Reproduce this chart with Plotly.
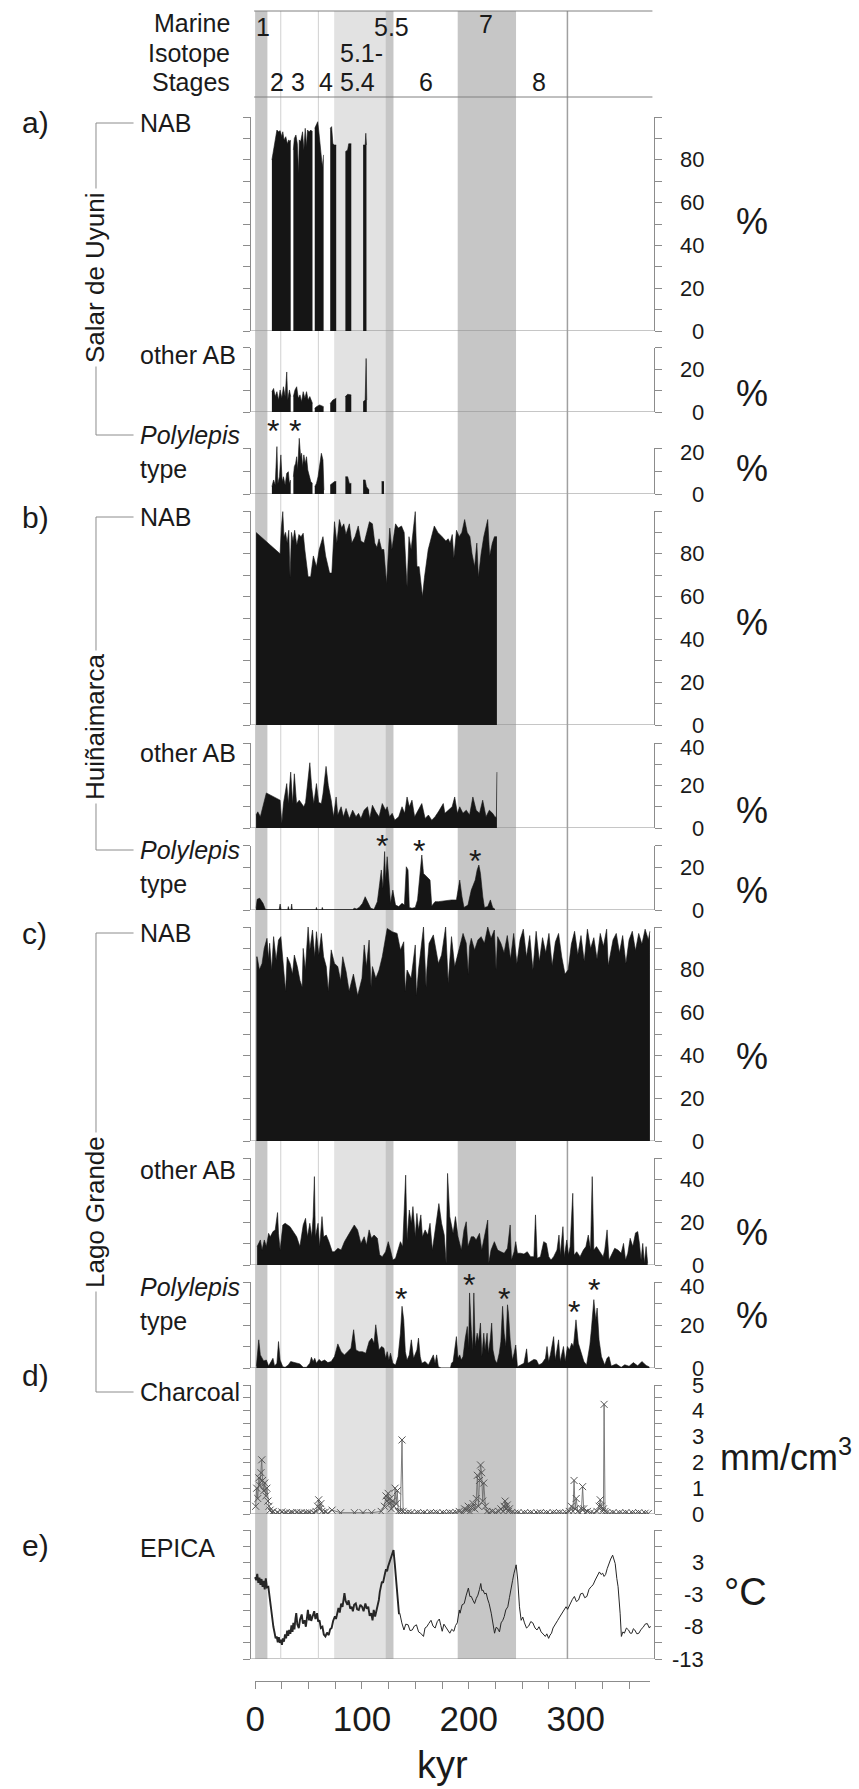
import plotly.graph_objects as go

W, H = 859, 1789
def X(px): return px / W
def Y(py): return 1 - py / H

# ---------------- DATA (age in kyr, value) ----------------
salar_nab = [(15.7, 79.9), (17.3, 84.6), (18.8, 90.8), (20.4, 93.9), (21.9, 93.1), (23.4, 93.6), (25, 90.8), (25.9, 93.1),
             (27.1, 89.3), (28.7, 90.8), (30.2, 87.5), (31.5, 89.3), (32.7, 88.5), (33.3, 89.3), None,
             (35.8, 84.6), (36.7, 90), (38.2, 91.6), (39.5, 87.5), (40.7, 73.6), (41.3, 89.3), (42.6, 88.5), (44.4, 93.1),
             (45.6, 84.6), (46.9, 94.7), (48.1, 86.1), (49, 93.9), (50.6, 93.1), (52.1, 93.9), (53.7, 93.1), None,
             (55.8, 94.7), (57.4, 96.3), (58.6, 97.8), (59.8, 92.4), (61.4, 83), (62.9, 76.8), (64.1, 82.3), None,
             (70.3, 94.7), (71.6, 95.5), (72.8, 87.5), (74.3, 86.9), (75.9, 86.9), None,
             (84.5, 83.8), (86.6, 84.6), (87.6, 87.5), (90, 87.5), None,
             (101.1, 86.9), (103, 86.9), (103.6, 92.4), (104.2, 86.9)]
salar_other = [(15.7, 9.5), (17.3, 11), (18.8, 7.2), (20.4, 9.5), (21.9, 5.6), (23.4, 10.3), (25, 6.4), (26.5, 11.8),
               (28.1, 7.2), (29.6, 18.7), (30.5, 5.6), (32.1, 10.3), (33.3, 7.2), None,
               (35.8, 7.2), (37.3, 10.3), (38.9, 11.8), (40.4, 6.4), (42, 8), (43.5, 4.8), (45, 9.5), (46.6, 6.4),
               (48.1, 9.5), (49.6, 5.6), (51.2, 7.2), (52.7, 4.8), (53.7, 4), None,
               (55.8, 1.7), (57.4, 2.5), (60.4, 3.3), (62, 2.9), (64.1, 2.5), None,
               (70.3, 4), (72.8, 5.6), (75.9, 6.4), None,
               (84.5, 7.2), (86.6, 8.3), (90, 8), None,
               (101.1, 4.8), (103, 5.6), (103.9, 25), (104.5, 5.6)]
salar_poly = [(15.7, 3.2), (17.3, 6.1), (18.8, 3.9), (20.4, 20.6), (21.3, 4.6), (22.8, 7.5), (24.1, 17), (25.3, 5.4),
              (26.5, 7.5), (28.1, 3.9), (29.6, 9), (31.1, 9.7), (32.1, 4.6), (33.3, 6.1), None,
              (35.8, 7.5), (36.7, 11.9), (37.9, 13.3), (38.9, 16.2), (39.8, 10.4), (41.3, 24.2), (42.6, 16.2), (43.5, 17.7),
              (44.4, 11.9), (45.6, 17), (46.9, 13.3), (48.1, 16.2), (49.3, 10.4), (50.6, 7.5), (52.1, 5.4), (53.7, 4.6), None,
              (55.8, 3.2), (57.4, 4.6), (58.9, 7.5), (60.4, 13.3), (62, 17.7), (63.5, 14.8), (64.4, 1.7), None,
              (70.3, 3.9), (72.2, 4.6), (74.3, 5.4), (75.9, 5.4), None,
              (84.5, 7.5), (86.6, 7.5), (88.2, 4.6), (90, 4.6), None,
              (101.1, 6.1), (103, 6.1), (104.2, 3.2), (106.7, 1.7), None,
              (118.4, 5.4), (120.6, 5.4)]

huin_nab = [(0.9, 90), (23.4, 80), (24.5, 92), (25.9, 99.7), (27, 88), (28.5, 90), (30, 85), (31.5, 91), (32.7, 69),
            (34, 90), (35.5, 86), (37, 91), (39, 84), (41, 89), (43, 88), (45, 89.6), (46.5, 82), (48, 75), (49.6, 69.3),
            (52, 69.3), (54.5, 79), (57.4, 74), (60, 82), (63.5, 88), (66, 79), (69.7, 71), (71.8, 71), (74.3, 95),
            (76.5, 85), (78.9, 96), (81, 92), (83, 94), (85, 89), (88.2, 94), (90.5, 85), (93.5, 88), (96.5, 93),
            (99, 86), (102, 85), (104.5, 90), (107, 95), (109.8, 94), (112, 85), (114, 83), (116, 87), (118.4, 82),
            (120.5, 82), (123, 66), (124.5, 82), (126, 92), (128, 82), (131.4, 94), (134, 92), (137, 93), (139.5, 90),
            (142.2, 64.6), (144, 88), (146, 82), (149.9, 99.7), (151.5, 74), (153.5, 74), (156.6, 60), (158.5, 69),
            (162, 82), (167.7, 93), (171, 90), (175, 88), (178.5, 86), (180.7, 87), (182.5, 85), (184.5, 89), (186, 78),
            (188.5, 91), (191, 88), (193.5, 90), (196.1, 96), (198.5, 90), (201, 88), (203, 80), (205.4, 74),
            (207.5, 85), (209, 69), (211.5, 80), (214, 88), (217.7, 96), (219.5, 79), (222, 85), (224, 88), (226.3, 88)]
huin_other = [(0.9, 6.1), (2.5, 7.6), (4.9, 5.3), (10.5, 16.5), (23.4, 13.1), (25, 2.2), (26.5, 11.5), (29.6, 20.9),
              (31.1, 11.5), (33.3, 26.3), (35.1, 11.5), (36.7, 25.5), (38.8, 11.5), (41.3, 13.1), (43.5, 11.5),
              (45.6, 10), (47.2, 12), (49, 20), (51.2, 30.7), (53, 19), (54.9, 11.5), (57.4, 20.9), (59.5, 12),
              (62, 11.5), (63.5, 16), (66.4, 29), (68.5, 20), (71.2, 13.1), (73.4, 5.3), (75.8, 14.6), (77.4, 6.1),
              (80.5, 10), (82.6, 5.3), (85.1, 9.2), (88.2, 4.5), (91.3, 8.4), (94.4, 5.3), (96.8, 6.9), (99, 4.5),
              (102, 8.4), (105.2, 10), (107.3, 4.5), (109.8, 10.7), (112.9, 7.6), (116, 5.3), (119, 11.5), (122.1, 8.4),
              (123.6, 10), (125.8, 5.3), (128.3, 6.9), (130.7, 3.7), (134.4, 5.3), (137.5, 10), (140, 6.9),
              (142.2, 14.6), (144.3, 10), (146.8, 13.1), (149.3, 5.3), (153, 8.4), (156, 11.5), (159.1, 4.5),
              (162.2, 6.1), (165.3, 3.7), (168.4, 5.3), (171.5, 7.6), (176.1, 11.5), (177.6, 6.9), (181.3, 8.4),
              (184.4, 10), (186.8, 14.6), (189.3, 6.9), (191.5, 10), (194.5, 6.9), (197.6, 8.4), (200.7, 6.1),
              (203.8, 14.6), (206.9, 8.4), (210, 6.9), (213, 13.1), (216.1, 5.3), (219.2, 8.4), (222.3, 6.9),
              (224.4, 5.3), (225.8, 5), (226.3, 26.3)]
huin_poly = [(0.9, 0.8), (1.9, 5), (4.3, 5.5), (7.4, 3.1), (9.6, 0.3), (12, 0.2), (22.5, 0.2), (23.4, 2.8), (24.3, 0.2),
             (30.5, 0.2), (31.1, 1.6), (31.8, 0.2), (33.6, 0.2), (34.2, 2.8), (34.8, 0.2), (56.8, 0.2), (57.4, 1.2),
             (58, 0.2), (62.3, 0.2), (62.9, 1.2), (63.5, 0.2), (91.3, 0.2), (92.8, 0.8), (95, 0.5), (97.4, 1.2),
             (100.5, 3.1), (103, 6.2), (105.2, 3.9), (108.2, 0.8), (111.3, 0.3), (114.4, 3.9), (116.6, 12.5),
             (118.1, 18.7), (119.6, 10.1), (121.2, 27.3), (122.1, 14), (123.6, 24.9), (125.2, 14), (126.7, 3.1),
             (128.9, 9.3), (131.4, 2.3), (134.4, 1.6), (137.5, 3.1), (139.7, 2.3), (141.5, 20.2), (143.1, 18.7),
             (144.3, 1.2), (146.8, 0.8), (149.9, 1.2), (152, 4.7), (154.5, 20.2), (156, 25.7), (157.6, 17.1),
             (160.7, 15.6), (163.7, 14), (165.3, 1.9), (168.4, 3.9), (171.5, 3.9), (177.6, 4.4), (183.8, 4.7),
             (188.4, 4.7), (191.5, 14), (193.6, 6.2), (195.5, 1.2), (199.2, 2.3), (202.3, 9.3), (206, 14),
             (207.8, 18.7), (209.4, 21), (210.9, 17.1), (213.1, 6.2), (214.6, 1.2), (217.7, 1.6), (220.2, 4.7),
             (222.3, 1.2), (224.5, 0.3)]

lago_nab = [(1.2, 86), (1.9, 86.1), (4, 80), (6.5, 83), (8.5, 90), (11.1, 94.7), (12.5, 85), (13.6, 92.4), (15.5, 80),
            (17.3, 95.5), (19.7, 84.6), (21.9, 93.9), (24.1, 95.5), (26.5, 81.5), (28.5, 70), (30, 86), (32.7, 83),
            (35, 78), (36.7, 86.9), (39.5, 81.5), (42, 75), (44, 72), (45, 90), (47, 80), (49.6, 100), (51.2, 89.3),
            (53.7, 98.6), (55.8, 86.1), (57.4, 97.8), (59.6, 86.9), (62, 97), (64.1, 86.1), (66.6, 81.5), (68.5, 70),
            (71.2, 89.3), (74.3, 83), (77.4, 81.5), (80, 75), (82, 86.1), (85.2, 79), (88, 70), (92, 78), (96, 68),
            (100, 76), (102.1, 91.6), (104.2, 81.5), (106.7, 93.9), (108.5, 72), (109.8, 81.5), (113, 76), (116, 79.9),
            (119, 86.1), (123.6, 99.3), (128.3, 97.8), (132.9, 97), (136, 89.3), (139.1, 93.1), (140.5, 70), (142.2, 79.9),
            (146, 76), (149.9, 91.6), (151, 68), (152.9, 79.9), (157.6, 100), (160, 72), (160.7, 79.9), (162.8, 92.4),
            (166.8, 96.3), (171.5, 83), (174.5, 86.9), (178.3, 100), (180.7, 74), (183.8, 95.5), (186.8, 81.5),
            (191.5, 91.6), (194.6, 97), (197.6, 92.4), (199.5, 78), (200.7, 90.8), (202.3, 94.7), (205.4, 89.3),
            (208.5, 93.9), (211.5, 95.5), (214.6, 92.4), (217.7, 100), (220.8, 94.7), (223.9, 98.6), (225.5, 80),
            (227, 95.5), (230, 92.4), (233, 88), (236, 96), (239, 85), (242, 97), (245, 83), (248, 94), (251, 99),
            (254, 86), (257, 96), (260, 80), (263, 98), (266, 84), (269, 95), (272, 88), (275, 97), (278, 82), (281, 93),
            (284, 97), (287, 86), (290, 78), (293, 80), (296, 92), (299, 98), (302, 87), (305, 96), (308, 84), (311, 99),
            (314, 90), (317, 95), (320, 85), (323, 97), (326, 91), (329, 99), (330.5, 82), (332, 86), (335, 94),
            (338, 97), (341, 88), (344, 96), (347, 83), (350, 94), (353, 98), (356, 89), (359, 97), (362, 92),
            (365, 99), (368, 94), (369.5, 98)]
lago_other = [(1.9, 8.6), (4.9, 11.7), (6.5, 7), (8.6, 11.7), (10.5, 8.6), (12.6, 14.8), (14.2, 13.2), (16.7, 15.6),
              (18.8, 16.4), (21, 24.5), (21.9, 14.8), (23.4, 7), (25.9, 18.7), (28.1, 19.5), (32.7, 17.9), (35.8, 15.6),
              (38.9, 13.2), (41.9, 8.6), (45, 18.7), (47.2, 21.8), (49, 13.2), (51.2, 19.5), (53, 13.2), (54.3, 22.6),
              (55.5, 41.3), (56.4, 13.2), (58.9, 19.5), (60.4, 8.6), (62.6, 22.6), (64.1, 13.2), (66.6, 14), (69.1, 10.9),
              (72.2, 6.2), (74.3, 6.2), (77.4, 7.8), (80.5, 7), (83.6, 10.9), (88.2, 14.8), (92.8, 18.7), (95.9, 16.4),
              (99, 10.1), (102.1, 13.2), (104.2, 9.3), (106.7, 16.4), (108.9, 12.5), (111.3, 14), (114.4, 12.5),
              (116.6, 4.7), (119, 3.9), (122.1, 6.2), (124.6, 10.9), (126.7, 7), (128.9, 2.3), (131.4, 3.1),
              (133.8, 7.8), (136, 10.9), (138.1, 8.6), (140.9, 42), (142.2, 11.7), (144.3, 25.7), (146.2, 19.5),
              (147.7, 27.3), (149.9, 13.2), (151.4, 24.1), (152.9, 16.4), (155.1, 23.4), (156.6, 13.2), (159.1, 16.4),
              (161.6, 14), (163.7, 19.5), (165.9, 7), (168.4, 16.4), (172, 28.7), (174.5, 19.5), (177, 14), (178.8, 0.8),
              (180.1, 42.8), (182.2, 22.6), (185.3, 14.8), (187.5, 22.6), (189.9, 13.2), (193, 7), (195.5, 16.4),
              (197.6, 20.2), (199.2, 8.6), (202.3, 13.2), (204.7, 13.2), (206.9, 11.7), (210, 14.8), (212.1, 7),
              (215.2, 14.8), (217.7, 21), (218.6, 0.8), (220.8, 7), (223.9, 10.9), (227, 7), (230, 6.2), (233.1, 5.5),
              (236.2, 7.8), (238.7, 18.7), (239.9, 2.3), (242.4, 6.2), (243.9, 10.9), (245.5, 5.5), (248.5, 5.5),
              (251.6, 5.1), (254.7, 6.2), (257.8, 3.9), (260.9, 3.9), (262.4, 23.4), (264, 3.1), (267, 3.9),
              (270.1, 10.9), (272.6, 10.1), (274.8, 3.9), (276.9, 2.3), (279.4, 3.9), (282.5, 7), (284.4, 14),
              (285.6, 4.7), (288.1, 17.9), (289.3, 3.9), (291.7, 11.7), (293.3, 4.7), (294.8, 8.6), (297.3, 33.5),
              (298.5, 4.7), (301, 6.2), (304.1, 3.9), (307.2, 7), (309.6, 8.6), (311.8, 14), (313.9, 7), (315.5, 41.3),
              (317, 7), (319.5, 8.6), (322.6, 6.2), (325.7, 3.9), (327.2, 7), (329.4, 16.4), (331.2, 2.3), (333.4, 4.7),
              (336.5, 7.8), (339.6, 7), (342.6, 5.5), (344.8, 10.1), (346.7, 2.3), (348.8, 5.5), (351, 12.5),
              (353.5, 8.6), (356, 15), (358.1, 15.6), (359.7, 10.1), (361.2, 2.3), (362.8, 10.1), (364.3, 0.8),
              (365.9, 8.6), (367.4, 0.8)]
lago_poly = [(1.2, 0.9), (3.4, 13.1), (4.9, 6.1), (8, 3.3), (10.5, 3.7), (12.6, 0.9), (16.7, 4.5), (18.2, 0.9), (20.4, 2.2),
             (21.9, 12.3), (23.4, 3.7), (25.9, 0.6), (28.1, 0.3), (31.1, 1.4), (33.3, 3), (37.3, 2.5), (41.9, 1.9),
             (45, 0.3), (48.1, 0.3), (51.2, 2.2), (52.7, 5), (54.3, 3), (55.8, 4.5), (57.4, 2.2), (59.8, 4), (62, 3),
             (65.1, 3.7), (68.1, 2.5), (71.2, 3), (74.3, 5.3), (77.4, 11.2), (80.5, 7.6), (83.6, 6.1), (86.6, 7.6),
             (89.7, 9.2), (92.2, 17.8), (94.4, 8.4), (97.4, 7.6), (100.5, 7.6), (103.6, 6.9), (106.7, 12.3),
             (109.2, 13.9), (111.3, 11.5), (112.9, 20.1), (114.4, 13.9), (115.9, 8.4), (118.4, 10), (120.6, 9.2),
             (122.1, 4.5), (123.6, 7.6), (125.2, 3.7), (126.7, 6.9), (128.9, 2.2), (131.4, 1.4), (133.8, 5.3),
             (136, 16.2), (137.5, 28.7), (139.1, 22.4), (140.6, 7.6), (142.2, 3.7), (144.3, 6.1), (146.2, 13.1),
             (148.3, 4.5), (151.4, 8.4), (152.9, 13.9), (154.5, 5.3), (156, 2.2), (159.1, 3), (162.2, 1.4), (165.3, 4.5),
             (166.8, 6.1), (168.4, 2.2), (169.9, 6.1), (171.5, 0.6), (173, 0.3), (174, 0), (182.8, 0), (183.8, 2.2),
             (185.3, 3), (188.4, 14.6), (189.9, 4.5), (191.5, 6.1), (193, 3.7), (194.6, 5.3), (196.7, 13.9),
             (198.6, 19.3), (199.8, 9.2), (200.7, 34.9), (202.3, 17.8), (203.8, 8.4), (204.7, 34.9), (206, 10),
             (207.8, 16.2), (209.1, 12.3), (210.9, 20.9), (212.2, 5.3), (214, 16.2), (215.2, 8.4), (217.1, 16.2),
             (218.3, 6.9), (220.2, 13.9), (221.4, 20.9), (222.6, 8.4), (224.5, 3.7), (226.3, 2.2), (228.5, 6.9),
             (230, 12.3), (231.6, 28.7), (233.1, 16.2), (234.7, 10), (236.2, 29.4), (237.1, 25.5), (238.7, 13.1),
             (240.8, 3.7), (242.4, 6.9), (243.9, 10.7), (245.5, 0.6), (248.5, 1.4), (251.6, 2.2), (254.1, 8.9),
             (255.3, 2.2), (257.8, 3), (260.9, 4), (263.3, 3.7), (265.5, 1.4), (268.6, 2.2), (271.7, 4.5), (273.2, 10),
             (274.7, 3), (276.3, 6.1), (279.4, 14.6), (280.9, 3.7), (282.5, 8.4), (284, 13.1), (285.5, 3), (288.6, 10),
             (290.2, 3), (292.3, 10), (294.2, 8.4), (296.3, 11.5), (297.9, 10), (300.3, 22.4), (302.5, 11.5),
             (305.6, 6.1), (307.7, 3), (310.2, 1.4), (313.3, 10.7), (314.8, 18.5), (317, 31.8), (318.8, 22.4),
             (320.1, 27.9), (321.9, 13.1), (324.1, 5.3), (327.2, 1.4), (329.3, 4.5), (331.2, 5.3), (333.3, 0.9),
             (337.9, 1.9), (342.6, 0.3), (346, 1.5), (350, 0.8), (354, 2.5), (358, 1), (362, 3), (366, 1.2), (369, 0.5)]

charcoal = [(0.5, 0.3), (1.5, 1.0), (2.5, 0.6), (3.5, 1.4), (4.5, 1.1), (5.5, 1.6), (6.2, 2.1), (7, 1.3), (8, 0.9),
            (9, 1.2), (10, 0.7), (11, 1.0), (12, 0.5), (13, 0.3), (14, 0.15), (15.5, 0.05), (17, 0.1), (19, 0.0),
            (21, 0.05), (23, 0.0), (25, 0.08), (27, 0.02), (29, 0.05), (31, 0.0), (33, 0.04), (35, 0.05), (37, 0.0),
            (39, 0.06), (41, 0.02), (43, 0.05), (45, 0.0), (47, 0.04), (49, 0.03), (51, 0.05), (53, 0.0), (55, 0.04),
            (57, 0.1), (58.5, 0.3), (59.5, 0.55), (60.5, 0.2), (61.5, 0.4), (62.5, 0.1), (64, 0.05), (66, 0.08),
            (68, 0.02), (72, 0.15), (80, 0.05), (93, 0.05), (101, 0.05), (109, 0.05), (118, 0.1), (121, 0.3),
            (122.5, 0.7), (123.5, 0.5), (124.5, 0.8), (125.5, 0.4), (126.5, 0.6), (127.5, 0.2), (128.5, 0.5),
            (130, 0.3), (131, 1.0), (132, 0.4), (133, 0.9), (134, 0.1), (135, 0.05), (136, 0.1), (137.5, 2.87),
            (138.5, 0.1), (140, 0.02), (143, 0.05), (146, 0.03), (149, 0.0), (152, 0.05), (155, 0.02), (158, 0.04),
            (161, 0.0), (164, 0.05), (167, 0.03), (170, 0.05), (173, 0.0), (176, 0.04), (179, 0.02), (182, 0.05),
            (185, 0.03), (188, 0.06), (191, 0.1), (194, 0.05), (196, 0.2), (198, 0.15), (199.5, 0.3), (201, 0.1),
            (202.5, 0.25), (204, 0.4), (205.5, 0.2), (207, 0.6), (208, 1.5), (209, 0.3), (210, 1.3), (211, 1.9),
            (212, 1.6), (213, 0.5), (214, 1.2), (215.5, 0.3), (217, 0.1), (219, 0.05), (222, 0.1), (225, 0.05),
            (228, 0.1), (230, 0.2), (232, 0.1), (233, 0.3), (234, 0.5), (235, 0.2), (236, 0.35), (237, 0.1),
            (238, 0.2), (240, 0.05), (243, 0.03), (246, 0.05), (249, 0.0), (252, 0.04), (255, 0.02), (258, 0.05),
            (261, 0.0), (264, 0.03), (267, 0.05), (270, 0.02), (273, 0.04), (276, 0.0), (279, 0.05), (282, 0.03),
            (285, 0.05), (288, 0.02), (291, 0.04), (294, 0.1), (296, 0.3), (297.5, 0.1), (298.5, 1.3), (299.5, 0.2),
            (300.5, 0.6), (302, 0.1), (304, 0.05), (305.5, 0.2), (306.5, 1.06), (307.5, 0.2), (309, 0.05), (311, 0.1),
            (314, 0.05), (317, 0.03), (320, 0.1), (322, 0.3), (323, 0.55), (324, 0.3), (325, 0.1), (326, 0.2),
            (326.6, 4.25), (327.5, 0.1), (329, 0.05), (332, 0.02), (335, 0.05), (338, 0.0), (341, 0.04), (344, 0.02),
            (347, 0.05), (350, 0.0), (353, 0.04), (356, 0.02), (359, 0.05), (362, 0.0), (365, 0.03), (368, 0.02)]

epica = [(0, -0.3), (1, -0.8), (2, 0.2), (3, -1.2), (4, -0.4), (5, -1.5), (6, -0.6), (7, -1.8), (8, -0.9), (9, -2.2),
         (10, -0.5), (11, -1.9), (12.4, -1.8), (13.5, -3.5), (14.4, -4.9), (15.5, -6.5), (17.1, -8), (18.3, -9),
         (19.2, -9.8), (20.2, -9.5), (21.2, -10.4), (22.2, -9.6), (23.2, -10.5), (24.1, -10), (25.1, -10.8), (26, -9.8),
         (27, -10.3), (28, -9.2), (29, -9.8), (30, -8.6), (31, -9.4), (31.9, -8.5), (33, -9.1), (34, -7.8), (35, -8.8),
         (35.8, -7.4), (36.8, -8.4), (37.7, -6.8), (38.5, -5.9), (39.5, -7.6), (40.9, -8.2), (42, -6.9), (43.6, -6.1),
         (44.8, -7.5), (46.3, -7), (47.5, -8), (48.5, -6.2), (49.4, -5.4), (50.5, -7), (51.5, -6.1), (52.5, -7.1),
         (54, -6.4), (55.3, -5.6), (56.5, -6.8), (58, -5.9), (59, -7.2), (60.3, -7), (61.5, -8.2), (63, -8),
         (64.3, -9.2), (65.8, -9.5), (67.3, -8.9), (68.9, -9.3), (70.2, -8.4), (71.6, -8.2), (73, -7.1), (74.7, -6.4),
         (75.7, -6.8), (76.7, -5.9), (78, -5.1), (79.2, -5.8), (80.5, -4.4), (81.8, -4.9), (82.7, -3.5), (83.6, -2.8),
         (84.7, -4), (86.4, -4.6), (87.5, -3.9), (89, -5.2), (90.3, -4.9), (91.5, -5.6), (92.7, -4.6), (94.2, -4.4),
         (95.5, -5.3), (97, -5.4), (98.5, -4.6), (100.1, -4.9), (101.5, -5.6), (103.2, -4.4), (104.5, -5.2),
         (105.9, -4.9), (107.2, -6.3), (108.7, -5.9), (109.9, -7), (111, -5.4), (112.3, -6.4), (113.8, -5.4),
         (114.8, -4.6), (115.8, -3.85), (116.7, -2.6), (117.7, -1.8), (118.7, -1), (119.7, -1.2), (120.6, -0.2),
         (121.6, 0.3), (122.5, 0.9), (123.5, 0.6), (124.4, 1.3), (125.5, 1.9), (126.5, 2.2), (127.5, 3.1),
         (128.5, 3.4), (129.5, 3.9), (130.7, 1.8), (132.2, -1.8), (133.5, -4), (134.6, -5.9), (135.4, -5.9),
         (136.3, -6.8), (137.3, -7.4), (139.3, -8.5), (141, -7.6), (143.2, -7.7), (145, -8.6), (147.1, -8.5),
         (149, -7.9), (151, -7.7), (153, -8.8), (154.9, -9), (157.6, -9.5), (159, -8.2), (160.7, -8), (162.5, -7.5),
         (164.6, -7), (166.5, -7.9), (168.5, -8.2), (170.5, -7.2), (172.4, -6.8), (173.8, -7.8), (175.1, -8.7),
         (176.7, -7.6), (178.3, -8), (180.2, -8.6), (182.2, -9), (184, -8.4), (186, -8.7), (187.6, -7.8), (189.2, -7.4),
         (191.1, -5.4), (191.8, -5.9), (193.7, -4.6), (195.7, -4.4), (197.6, -3.1), (199.6, -2), (201, -3.3),
         (202.3, -3.3), (203.9, -3.9), (205.4, -4.4), (207, -3.6), (208.5, -3.1), (210, -2.2), (211.2, -1.3),
         (212.2, -2.4), (213.2, -2.3), (214.8, -2.9), (216.3, -2.8), (217.6, -3.7), (219, -4.4), (221, -5.9),
         (222.5, -7.6), (224.1, -9), (225.5, -8.1), (226.8, -8.2), (228.7, -8.8), (230.2, -7.4), (231.8, -7),
         (233.2, -6.4), (234.6, -5.4), (236.5, -4.9), (238, -3.5), (239.6, -1.8), (241, -0.8), (242.3, 0.3),
         (243.3, 1), (244.3, 1.6), (245.8, -0.75), (247.4, -4.9), (249, -7), (250.5, -6.5), (252.1, -7.4), (254, -8.2),
         (256, -7.9), (258, -7.2), (259.9, -7.4), (262, -8.2), (263.8, -8.5), (265.7, -8), (267.7, -8.8), (269.6, -9.1),
         (271.6, -9.5), (273, -9.1), (274.7, -9.8), (276, -9.3), (277.4, -9), (278.8, -8.2), (280.1, -7.9),
         (281.6, -7.4), (283.2, -7), (285, -6.5), (287.1, -5.9), (289, -5.5), (291, -4.9), (292.5, -5.3),
         (294.9, -4.4), (296.8, -3.8), (298.8, -3.3), (300.7, -4.1), (302.7, -3.85), (304.6, -2.9), (306.6, -2.8),
         (308.5, -3.5), (310.5, -3.3), (312.5, -2.2), (314.4, -1.8), (316.3, -1.5), (318.3, -0.75), (320.2, 0),
         (322.2, 0.5), (323.8, 0.1), (325.3, 0.3), (326.6, -0.2), (328, 0.1), (329.5, 1), (331.1, 1.8), (332.8, 2.5),
         (334.6, 3.1), (335.8, 2.6), (337, 1.8), (338.5, -0.5), (339.7, -1.8), (341.6, -5.9), (342.8, -9.5),
         (344.2, -8.8), (345.6, -9), (347.5, -8.2), (349.5, -8.5), (351, -9), (352.6, -9), (354, -8.3), (355.3, -8.5),
         (357.3, -9.1), (359.2, -9), (361.2, -8.4), (363.1, -8.1), (365, -7.6), (367, -7.5), (369, -8.2), (370, -7.9)]
EPICA_DENSE_END = 135.4   # the high-resolution part of the record is drawn heavier

# Marine isotope stage shading (kyr)
mis_dark_bands = [(0, 11.5), (122, 129.5), (189.6, 244.2)]
mis_light_bands = [(74, 122)]
mis_thin_lines = [24, 59.2]
mis_dark_lines = [292.3]
mis_labels = [("1", 248, 27), ("5.5", 367, 27), ("7", 473, 24), ("5.1-", 333, 53), ("2", 262, 82), ("3", 283, 82),
              ("4", 312, 82), ("5.4", 333, 82), ("6", 413, 82), ("8", 527, 82)]

# stars marking Polylepis peaks: (panel, age, value)
stars = [("a_pol", 17.0, 28.5), ("a_pol", 37.3, 28.5),
         ("b_pol", 118.8, 31.5), ("b_pol", 153.0, 29.2), ("b_pol", 205.5, 24.5),
         ("c_pol", 136.3, 33.6), ("c_pol", 199.8, 40.1), ("c_pol", 232.5, 33.6), ("c_pol", 298.0, 27.5),
         ("c_pol", 316.8, 37.8)]

x_tick_vals = [0, 100, 200, 300]
x_tick_text = ["0", "100", "200", "300"]

pct100_ticks = list(range(0, 101, 10))
pct100_text = ["0", "", "20", "", "40", "", "60", "", "80", "", ""]
char_ticks = [0, 0.5, 1, 1.5, 2, 2.5, 3, 3.5, 4, 4.5, 5]
char_text = ["0", "", "1", "", "2", "", "3", "", "4", "", "5"]
epica_ticks = [-13, -10.5, -8, -5.5, -3, -0.5, 2, 4.5, 7]
epica_text = ["-13", "", "-8", "", "-3", "", "3", "", ""]

# ---------------- LAYOUT CONFIG ----------------
FONT = "Liberation Sans, Arial, Helvetica, sans-serif"
TXT = "#1a1a1a"
AX = "#8c8c8c"
BLACK = "#151515"

panels = [
    dict(key="a_nab", bot=331, top=117, vmin=0, vmax=100, ext=0, tv=pct100_ticks, tt=pct100_text, data=salar_nab, kind="fill"),
    dict(key="a_oth", bot=412, top=347.8, vmin=0, vmax=30, ext=0, tv=[0, 10, 20, 30], tt=["0", "", "20", ""], data=salar_other, kind="fill"),
    dict(key="a_pol", bot=494, top=448, vmin=0, vmax=20, ext=20, tv=[0, 10, 20], tt=["0", "", "20"], data=salar_poly, kind="fill"),
    dict(key="b_nab", bot=725, top=511, vmin=0, vmax=100, ext=0, tv=pct100_ticks, tt=pct100_text, data=huin_nab, kind="fill"),
    dict(key="b_oth", bot=828, top=743, vmin=0, vmax=40, ext=0, tv=[0, 10, 20, 30, 40], tt=["0", "", "20", "", "40"], data=huin_other, kind="fill"),
    dict(key="b_pol", bot=910, top=845.8, vmin=0, vmax=30, ext=0, tv=[0, 10, 20, 30], tt=["0", "", "20", ""], data=huin_poly, kind="fill"),
    dict(key="c_nab", bot=1141, top=927, vmin=0, vmax=100, ext=0, tv=pct100_ticks, tt=pct100_text, data=lago_nab, kind="fill"),
    dict(key="c_oth", bot=1265, top=1158, vmin=0, vmax=50, ext=0, tv=[0, 10, 20, 30, 40, 50], tt=["0", "", "20", "", "40", ""], data=lago_other, kind="fill"),
    dict(key="c_pol", bot=1368, top=1282, vmin=0, vmax=40, ext=0, tv=[0, 10, 20, 30, 40], tt=["0", "", "20", "", "40"], data=lago_poly, kind="fill"),
    dict(key="d_char", bot=1514, top=1385, vmin=0, vmax=5, ext=0, tv=char_ticks, tt=char_text, data=charcoal, kind="char"),
    dict(key="e_epica", bot=1659, top=1530, vmin=-13, vmax=7, ext=0, tv=epica_ticks, tt=epica_text, data=epica, kind="line"),
]

def segments(pairs):
    segs, cur = [], []
    for p in pairs:
        if p is None:
            if cur:
                segs.append(cur)
            cur = []
        else:
            cur.append(p)
    if cur:
        segs.append(cur)
    return segs

fig = go.Figure()
layout_axes = {}
shapes = []
annos = []
pinfo = {}

for i, p in enumerate(panels):
    did, tid = 2 * i + 1, 2 * i + 2
    scale = (p["bot"] - p["top"]) / (p["vmax"] - p["vmin"])
    dname = "yaxis" if did == 1 else f"yaxis{did}"
    dref = "y" if did == 1 else f"y{did}"
    tref = f"y{tid}"
    pinfo[p["key"]] = (p["bot"], scale, p["vmin"])
    layout_axes[dname] = dict(domain=[Y(p["bot"]), Y(p["top"] - p["ext"])],
                              range=[p["vmin"], p["vmax"] + p["ext"] / scale],
                              visible=False, anchor="x", fixedrange=True)
    layout_axes[f"yaxis{tid}"] = dict(domain=[Y(p["bot"]), Y(p["top"])], range=[p["vmin"], p["vmax"]],
                                      anchor="x", side="right", mirror="ticks", showline=True, linecolor=AX,
                                      linewidth=1, ticks="outside", ticklen=7, tickwidth=1, tickcolor=AX,
                                      tickvals=p["tv"], showticklabels=False, showgrid=False, zeroline=False,
                                      fixedrange=True)
    fig.add_trace(go.Scatter(x=[0], y=[p["vmin"]], yaxis=tref, mode="markers", marker=dict(opacity=0, size=1),
                             showlegend=False, hoverinfo="skip"))
    shapes.append(dict(type="line", xref="paper", x0=X(244), x1=X(652), yref=tref, y0=p["vmin"], y1=p["vmin"],
                       line=dict(color=AX, width=1), layer="below"))
    for v, t in zip(p["tv"], p["tt"]):
        if t:
            # labels at the very top of a short percent panel sit a little lower, as in the original
            shift = -4 if (v == p["vmax"] and i > 0 and p["kind"] == "fill") else 0
            annos.append(dict(x=X(704), xref="paper", xanchor="right", y=v, yref=tref, yanchor="middle", text=t,
                              yshift=shift, showarrow=False, font=dict(size=22, color=TXT, family=FONT)))
    if p["kind"] == "fill":
        for seg in segments(p["data"]):
            fig.add_trace(go.Scatter(x=[a for a, _ in seg], y=[v for _, v in seg], yaxis=dref, mode="lines",
                                     fill="tozeroy", fillcolor=BLACK, line=dict(color=BLACK, width=0.6),
                                     showlegend=False, hoverinfo="skip"))
    elif p["kind"] == "char":
        fig.add_trace(go.Scatter(x=[a for a, _ in p["data"]], y=[v for _, v in p["data"]], yaxis=dref,
                                 mode="lines+markers", line=dict(color="#6e6e6e", width=0.9),
                                 marker=dict(symbol="x-thin", size=7, line=dict(color="#555555", width=1)),
                                 showlegend=False, hoverinfo="skip"))
    else:
        dense = [q for q in p["data"] if q[0] <= EPICA_DENSE_END]
        sparse = [q for q in p["data"] if q[0] >= dense[-1][0]]
        for part, wd in ((dense, 1.9), (sparse, 1.0)):
            fig.add_trace(go.Scatter(x=[a for a, _ in part], y=[v for _, v in part], yaxis=dref,
                                     mode="lines", line=dict(color="#262626", width=wd),
                                     showlegend=False, hoverinfo="skip"))

# bottom age axis
fig.add_trace(go.Scatter(x=[0], y=[0], xaxis="x2", yaxis="y23", mode="markers", marker=dict(opacity=0, size=1),
                         showlegend=False, hoverinfo="skip"))
layout_axes["yaxis23"] = dict(domain=[Y(1681), Y(1672)], range=[0, 1], visible=False, anchor="x2", fixedrange=True)

for a0, a1 in mis_dark_bands:
    shapes.insert(0, dict(type="rect", xref="x", x0=a0, x1=a1, yref="paper", y0=Y(1659), y1=Y(11),
                          fillcolor="#c6c6c6", line=dict(width=0), layer="below"))
for a0, a1 in mis_light_bands:
    shapes.insert(0, dict(type="rect", xref="x", x0=a0, x1=a1, yref="paper", y0=Y(1659), y1=Y(11),
                          fillcolor="#e2e2e2", line=dict(width=0), layer="below"))
for a in mis_thin_lines:
    shapes.append(dict(type="line", xref="x", x0=a, x1=a, yref="paper", y0=Y(1659), y1=Y(11),
                       line=dict(color="#d0d0d0", width=1), layer="below"))
for a in mis_dark_lines:
    shapes.append(dict(type="line", xref="x", x0=a, x1=a, yref="paper", y0=Y(1659), y1=Y(11),
                       line=dict(color="#a0a0a0", width=1.5), layer="below"))
for yy in (11, 97):
    shapes.append(dict(type="line", xref="paper", x0=X(247), x1=X(650), yref="paper", y0=Y(yy), y1=Y(yy),
                       line=dict(color="#808080", width=1)))

def txt(text, x, y, size=25, xanchor="left", yanchor="middle", **kw):
    d = dict(text=text, x=X(x), y=Y(y), xref="paper", yref="paper", xanchor=xanchor, yanchor=yanchor,
             showarrow=False, font=dict(size=size, color=TXT, family=FONT))
    d.update(kw)
    annos.append(d)

txt("Marine", 225, 23, xanchor="right")
txt("Isotope", 225, 53, xanchor="right")
txt("Stages", 225, 82, xanchor="right")
for lab, xx, yy in mis_labels:
    txt(lab, xx - 1, yy)

for lab, yy in (("a)", 123), ("b)", 517), ("c)", 933), ("d)", 1375), ("e)", 1545)):
    txt(lab, 10, yy, size=30)
for lab, yy in (("NAB", 123), ("other AB", 355), ("<i>Polylepis</i>", 435), ("type", 469),
                ("NAB", 517), ("other AB", 753), ("<i>Polylepis</i>", 850), ("type", 884),
                ("NAB", 933), ("other AB", 1170), ("<i>Polylepis</i>", 1287), ("type", 1321),
                ("Charcoal", 1392), ("EPICA", 1548)):
    txt(lab, 130, yy)

BR = "#8c8c8c"
for top_y, bot_y, name, cy in ((123, 435, "Salar de Uyuni", 277), (517, 850, "Huiñaimarca", 727),
                               (933, 1392, "Lago Grande", 1212)):
    shapes.append(dict(type="line", xref="paper", yref="paper", x0=X(87), x1=X(87), y0=Y(top_y), y1=Y(bot_y),
                       line=dict(color=BR, width=1)))
    shapes.append(dict(type="line", xref="paper", yref="paper", x0=X(87), x1=X(125), y0=Y(top_y), y1=Y(top_y),
                       line=dict(color=BR, width=1)))
    shapes.append(dict(type="line", xref="paper", yref="paper", x0=X(87), x1=X(125), y0=Y(bot_y), y1=Y(bot_y),
                       line=dict(color=BR, width=1)))
    txt(name, 86, cy, size=26, xanchor="center", textangle=-90, bgcolor="white", borderpad=3)

for yy in (222, 393, 468, 622, 810, 890, 1056, 1232, 1315):
    txt("%", 751, yy, size=36, xanchor="center")
txt("mm/cm<sup>3</sup>", 716, 1455, size=36)
txt("°C", 744, 1592, size=38, xanchor="center")
txt("kyr", 438, 1765, size=38, xanchor="center")

# stars (placed in paper space from the panel's own value scale)
for key, age, val in stars:
    bot, scale, vmin = pinfo[key]
    py = bot - (val - vmin) * scale
    annos.append(dict(text="*", x=age, xref="x", y=Y(py), yref="paper", xanchor="center", yanchor="middle",
                      yshift=-3, showarrow=False, font=dict(size=32, color=TXT, family=FONT)))

fig.update_layout(
    width=W, height=H, margin=dict(l=0, r=0, t=0, b=0), paper_bgcolor="white", plot_bgcolor="rgba(0,0,0,0)",
    showlegend=False, hovermode=False, font=dict(family=FONT, color=TXT),
    xaxis=dict(domain=[X(244), X(652)], range=[-3.7, 373.7], visible=False, anchor="y", fixedrange=True),
    xaxis2=dict(domain=[X(248), X(648)], range=[0, 370], anchor="y23", side="bottom", showline=True, linecolor=AX,
                linewidth=1, ticks="outside", ticklen=7, tickcolor=AX, tickvals=x_tick_vals, ticktext=x_tick_text,
                tickfont=dict(size=35, color=TXT, family=FONT), showgrid=False, zeroline=False, fixedrange=True,
                minor=dict(ticks="outside", dtick=25, tick0=0, ticklen=7, tickcolor=AX, showgrid=False)),
    shapes=shapes, annotations=annos, **layout_axes)

fig.write_html("out.html", config={"staticPlot": True},
               post_script="document.body.style.margin='0px';document.body.style.overflow='hidden';")
